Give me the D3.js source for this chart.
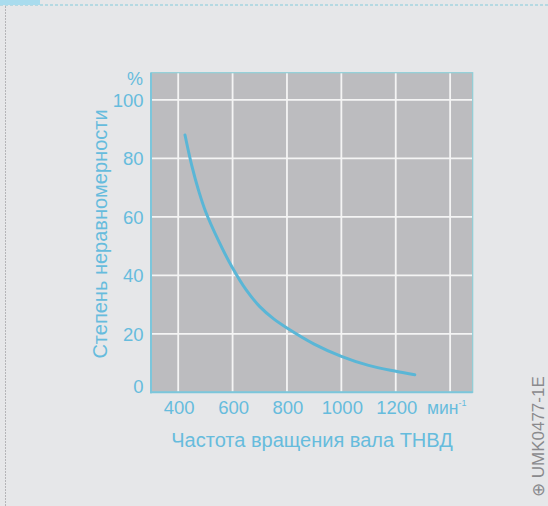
<!DOCTYPE html>
<html><head><meta charset="utf-8">
<script src="https://cdn.jsdelivr.net/npm/d3@7"></script>
<style>
html,body{margin:0;padding:0;background:#e6e7e9;}
svg{display:block;}
text{font-family:"Liberation Sans",Arial,sans-serif;}
</style></head>
<body>
<svg id="chart" width="548" height="506"></svg>
<script>
// Data
const rpm = [425, 450, 475, 500, 550, 600, 650, 700, 750, 800, 900, 1000, 1100, 1200, 1270];
const unevenness = [88, 77.5, 69, 62, 51.5, 42.5, 35, 29.3, 25.2, 22, 16.5, 12.3, 9.2, 7.2, 6];
const xTicks = [400, 600, 800, 1000, 1200];
const xGrid = [400, 600, 800, 1000, 1200, 1400];
const yTicks = [0, 20, 40, 60, 80, 100];
const xTitle = "Частота вращения вала ТНВД";
const yTitle = "Степень неравномерности";
const xUnit = "мин";
const xUnitExp = "-1";
const yUnit = "%";
const code = "UMK0477-1E";

const svg = d3.select("#chart");
const W = 548, H = 506;
const m = {left:151, right:472.7, top:72.7, bottom:392.3};
const blue = "#66bcdd";

// paper frame
svg.append("rect").attr("width",W).attr("height",H).attr("fill","#e6e7e9");
svg.append("line").attr("x1",0).attr("x2",W).attr("y1",5).attr("y2",5)
  .attr("stroke","#a5d5df").attr("stroke-width",1.5).attr("stroke-dasharray","3,2");
svg.append("rect").attr("x",0).attr("y",0).attr("width",40).attr("height",5).attr("fill","#a9dcee");
svg.append("line").attr("x1",5.5).attr("x2",5.5).attr("y1",6).attr("y2",H)
  .attr("stroke","#b5b5b8").attr("stroke-width",1).attr("stroke-dasharray","2,1");

const x = d3.scaleLinear().domain([300, 1483]).range([m.left, m.right]);
const y = d3.scaleLinear().domain([0, 109.3]).range([m.bottom, m.top]);

// plot background
svg.append("rect").attr("x",m.left).attr("y",m.top)
  .attr("width",m.right-m.left).attr("height",m.bottom-m.top)
  .attr("fill","#bcbcbf");

// grid
const g = svg.append("g");
g.selectAll(".vg").data(xGrid).join("line")
  .attr("x1",d=>x(d)).attr("x2",d=>x(d)).attr("y1",m.top).attr("y2",m.bottom)
  .attr("stroke","#f4f4f4").attr("stroke-width",1.8);
g.selectAll(".hg").data(yTicks.filter(d=>d>0)).join("line")
  .attr("x1",m.left).attr("x2",m.right).attr("y1",d=>y(d)).attr("y2",d=>y(d))
  .attr("stroke","#f4f4f4").attr("stroke-width",1.8);

// frame
svg.append("rect").attr("x",m.left).attr("y",m.top)
  .attr("width",m.right-m.left).attr("height",m.bottom-m.top)
  .attr("fill","none").attr("stroke","#8fcfd8").attr("stroke-width",1.2);
svg.append("line").attr("x1",m.left).attr("x2",m.left).attr("y1",m.top).attr("y2",m.bottom+1)
  .attr("stroke","#7cc6db").attr("stroke-width",2);
svg.append("line").attr("x1",m.left-1).attr("x2",m.right).attr("y1",m.bottom).attr("y2",m.bottom)
  .attr("stroke","#7cc6db").attr("stroke-width",2);

// curve
const line = d3.line().x((d,i)=>x(rpm[i])).y(d=>y(d)).curve(d3.curveCatmullRom.alpha(0.5));
svg.append("path").attr("d",line(unevenness))
  .attr("fill","none").attr("stroke","#5ab6d6").attr("stroke-width",3).attr("stroke-linecap","round");

// tick labels
svg.selectAll(".xt").data(xTicks).join("text")
  .attr("x",d=>x(d)+1).attr("y",413.5).attr("text-anchor","middle")
  .attr("font-size",18.5).attr("fill",blue).text(d=>d);
const unit = svg.append("text").attr("x",427).attr("y",413.5).attr("font-size",17.5).attr("fill",blue);
unit.append("tspan").text(xUnit);
unit.append("tspan").attr("dy",-8).attr("font-size",9).text(xUnitExp);

svg.selectAll(".yt").data(yTicks).join("text")
  .attr("x",143.5).attr("y",d=>y(d) + (d===0 ? 0.5 : 6.7)).attr("text-anchor","end")
  .attr("font-size",18.5).attr("fill",blue).text(d=>d);
svg.append("text").attr("x",135).attr("y",85).attr("text-anchor","middle")
  .attr("font-size",18).attr("fill",blue).text(yUnit);

// titles
svg.append("text").attr("x",312).attr("y",446.5).attr("text-anchor","middle")
  .attr("font-size",20).attr("fill",blue).text(xTitle);
svg.append("text").attr("transform","translate(107,234) rotate(-90)").attr("text-anchor","middle")
  .attr("font-size",20).attr("fill",blue).text(yTitle);

// watermark
svg.append("text").attr("transform","translate(544,497) rotate(-90)").attr("text-anchor","start")
  .attr("font-size",17).attr("fill","#8a8a8d").text("⊕ " + code);
</script>
</body></html>
